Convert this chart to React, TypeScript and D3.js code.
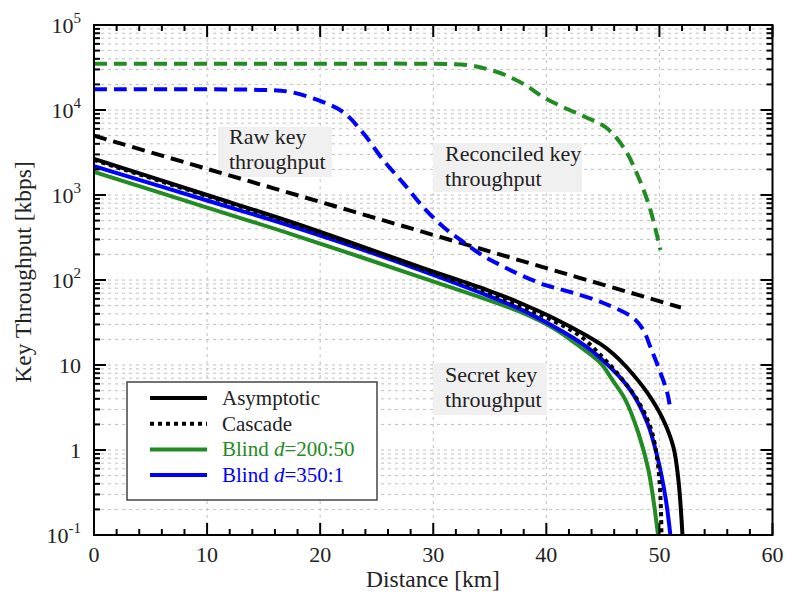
import React from "react";
import * as d3 from "d3";

// ---------- Data (distance in km, throughput in kbps) ----------
const rawKm = [0, 10, 20, 30, 40, 51.9];
const rawVal = [4980, 2030, 830, 339, 138, 47.5];

const recBlueKm = [0, 10, 15, 17.35, 20.27, 22.04, 23.8, 25.58, 27.35, 29.1, 30.9, 32.65, 34.16, 35.93, 37.7, 39.9, 42.12, 45.04, 47.7, 48.58, 49.2, 49.9, 50.7, 50.97];
const recBlueVal = [17500, 17500, 17200, 16300, 12400, 9460, 5360, 2580, 1380, 723, 421, 280, 202, 150, 115, 87.3, 72.3, 53.6, 35.7, 25.8, 16.3, 9.47, 4.69, 2.96];

const recGreenKm = [0, 10, 20, 30, 33.0, 34.78, 36.37, 38.14, 39.73, 41.5, 43.45, 45.22, 46.81, 48.14, 49.2, 50.09];
const recGreenVal = [35000, 35000, 35000, 34900, 33800, 30300, 25800, 19700, 14200, 10800, 8270, 6310, 3670, 1630, 667, 225];

const asymKm = [0, 10, 17.7, 28.85, 34.78, 37.7, 40.62, 43.63, 44.78, 45.93, 47.17, 48.94, 50.35, 51.24, 51.68, 52.04];
const asymVal = [2655, 1000, 469, 142, 76.2, 53.6, 35.7, 21.9, 17.7, 13.5, 9.22, 4.69, 2.25, 1.08, 0.444, 0.1];

const cascKm = [0, 10, 17.7, 28.85, 34.78, 37.7, 40.62, 43.0, 45.04, 46.55, 48.05, 49.2, 49.82, 50.09, 50.18];
const cascVal = [2580, 973, 456, 138, 72, 49.4, 33, 21.9, 12.1, 7.23, 3.87, 1.87, 0.762, 0.28, 0.1];

const blueKm = [0, 10, 17.7, 28.85, 37.7, 40.6, 42.8, 44.78, 47.43, 48.94, 49.82, 50.53, 50.97];
const blueVal = [2190, 861, 420, 131, 45.5, 28.6, 19.2, 12.1, 5.08, 2.08, 0.83, 0.28, 0.1];

const greenKm = [0, 10, 17.7, 28.85, 37.7, 40.6, 42.65, 44.78, 45.84, 47.0, 48.14, 49.03, 49.88];
const greenVal = [1866, 711, 338, 108, 42, 27.2, 17.7, 10.6, 6.67, 3.87, 1.585, 0.582, 0.1];

const xTicks = [0, 10, 20, 30, 40, 50, 60];
const yTickExp = [-1, 0, 1, 2, 3, 4, 5];

const legendLabels = ["Asymptotic", "Cascade", "Blind ", "Blind "];
const legendSuffix = ["", "", "=200:50", "=350:1"];

const GREEN = "#228B22";
const BLUE = "#0000FF";
const FONT = "'Liberation Serif', 'Times New Roman', serif";

export default function App() {
  const W = 788, H = 593;
  const L = 94, R = 772.5, T = 25, B = 535;
  const x = d3.scaleLinear().domain([0, 60]).range([L, R]);
  const y = d3.scaleLog().domain([0.1, 100000]).range([B, T]);

  const mk = (ks: number[], vs: number[]) =>
    d3
      .line<number>()
      .x((_, i) => x(ks[i]))
      .y((v) => y(v))
      .curve(d3.curveCatmullRom.alpha(0.5))(vs) || "";

  const minorY: number[] = [];
  for (let e = -1; e <= 4; e++) {
    for (let k = 1; k <= 9; k++) minorY.push(k * Math.pow(10, e));
  }
  const xMinor = d3.range(0, 61, 2);

  const yLabel = (e: number) => {
    if (e === 0) return <tspan>1</tspan>;
    if (e === 1) return <tspan>10</tspan>;
    return (
      <>
        <tspan>10</tspan>
        <tspan fontSize={15} dy={-10}>{String(e)}</tspan>
      </>
    );
  };

  const gridStyle = { stroke: "#c0c0c0", strokeWidth: 1, strokeDasharray: "3,4" };

  return (
    <svg width={W} height={H} style={{ position: "absolute", left: 0, top: 0, background: "#fff" }} fontFamily={FONT}>
      <defs>
        <clipPath id="plot">
          <rect x={L} y={T} width={R - L} height={B - T} />
        </clipPath>
      </defs>
      <rect x={0} y={0} width={W} height={H} fill="#fff" />

      {/* grid */}
      <g>
        {minorY.map((v, i) => (
          <line key={"gy" + i} x1={L} x2={R} y1={y(v)} y2={y(v)} {...gridStyle} />
        ))}
        {xTicks.slice(1, -1).map((t) => (
          <line key={"gx" + t} x1={x(t)} x2={x(t)} y1={T} y2={B} {...gridStyle} />
        ))}
      </g>

      {/* annotation boxes */}
      <g fontSize={22} fill="#222">
        <rect x={218} y={127} width={114} height={50} fill="#f0f0f0" />
        <text x={229} y={144}>Raw key</text>
        <text x={229} y={169}>throughput</text>

        <rect x={433} y={143} width={149} height={49} fill="#f0f0f0" />
        <text x={445} y={161}>Reconciled key</text>
        <text x={445} y={186}>throughput</text>

        <rect x={433} y={363} width={114} height={52} fill="#f0f0f0" />
        <text x={445} y={382}>Secret key</text>
        <text x={445} y={407}>throughput</text>
      </g>

      {/* curves */}
      <g clipPath="url(#plot)" fill="none" strokeWidth={4}>
        <path d={mk(rawKm, rawVal)} stroke="#000" strokeDasharray="13,7" />
        <path d={mk(recBlueKm, recBlueVal)} stroke={BLUE} strokeDasharray="13,7" />
        <path d={mk(recGreenKm, recGreenVal)} stroke={GREEN} strokeDasharray="13,7" />
        <path d={mk(greenKm, greenVal)} stroke={GREEN} />
        <path d={mk(blueKm, blueVal)} stroke={BLUE} />
        <path d={mk(asymKm, asymVal)} stroke="#000" />
        <path d={mk(cascKm, cascVal)} stroke="#000" strokeDasharray="4,4" />
      </g>

      {/* axes frame and ticks */}
      <g stroke="#000">
        <rect x={L} y={T} width={R - L} height={B - T} fill="none" strokeWidth={2} />
        {xMinor.map((t) => {
          const major = t % 10 === 0;
          const len = major ? 12 : 6;
          return (
            <g key={"xt" + t}>
              <line x1={x(t)} x2={x(t)} y1={B} y2={B - len} strokeWidth={2} />
              <line x1={x(t)} x2={x(t)} y1={T} y2={T + len} strokeWidth={2} />
            </g>
          );
        })}
        {minorY.concat([100000]).map((v, i) => {
          const major = Math.abs(Math.log10(v) - Math.round(Math.log10(v))) < 1e-9;
          const len = major ? 12 : 6;
          return (
            <g key={"yt" + i}>
              <line x1={L} x2={L + len} y1={y(v)} y2={y(v)} strokeWidth={2} />
              <line x1={R} x2={R - len} y1={y(v)} y2={y(v)} strokeWidth={2} />
            </g>
          );
        })}
      </g>

      {/* tick labels */}
      <g fontSize={22} fill="#222">
        {xTicks.map((t) => (
          <text key={"xl" + t} x={x(t)} y={562} textAnchor="middle">
            {t}
          </text>
        ))}
        {yTickExp.map((e) => (
          <text key={"yl" + e} x={81} y={y(Math.pow(10, e)) + 8} textAnchor="end">
            {yLabel(e)}
          </text>
        ))}
      </g>

      {/* axis titles */}
      <text x={433} y={587} fontSize={23.5} textAnchor="middle" fill="#222">
        Distance [km]
      </text>
      <text
        transform={`translate(31, 272) rotate(-90)`}
        fontSize={23.5}
        textAnchor="middle"
        fill="#222"
      >
        Key Throughput [kbps]
      </text>

      {/* legend */}
      <g>
        <rect x={127} y={382} width={250} height={118} fill="#fff" stroke="#444" strokeWidth={1.5} />
        {[0, 1, 2, 3].map((i) => {
          const yy = 398 + i * 25.7;
          const color = i === 2 ? GREEN : i === 3 ? BLUE : "#000";
          return (
            <g key={"lg" + i}>
              <line
                x1={150}
                x2={207}
                y1={yy}
                y2={yy}
                stroke={color}
                strokeWidth={4}
                strokeDasharray={i === 1 ? "4,4" : undefined}
              />
              <text x={222} y={yy + 7} fontSize={21} fill={i < 2 ? "#222" : color}>
                {legendLabels[i]}
                {i >= 2 && <tspan fontStyle="italic">d</tspan>}
                {legendSuffix[i]}
              </text>
            </g>
          );
        })}
      </g>
    </svg>
  );
}
